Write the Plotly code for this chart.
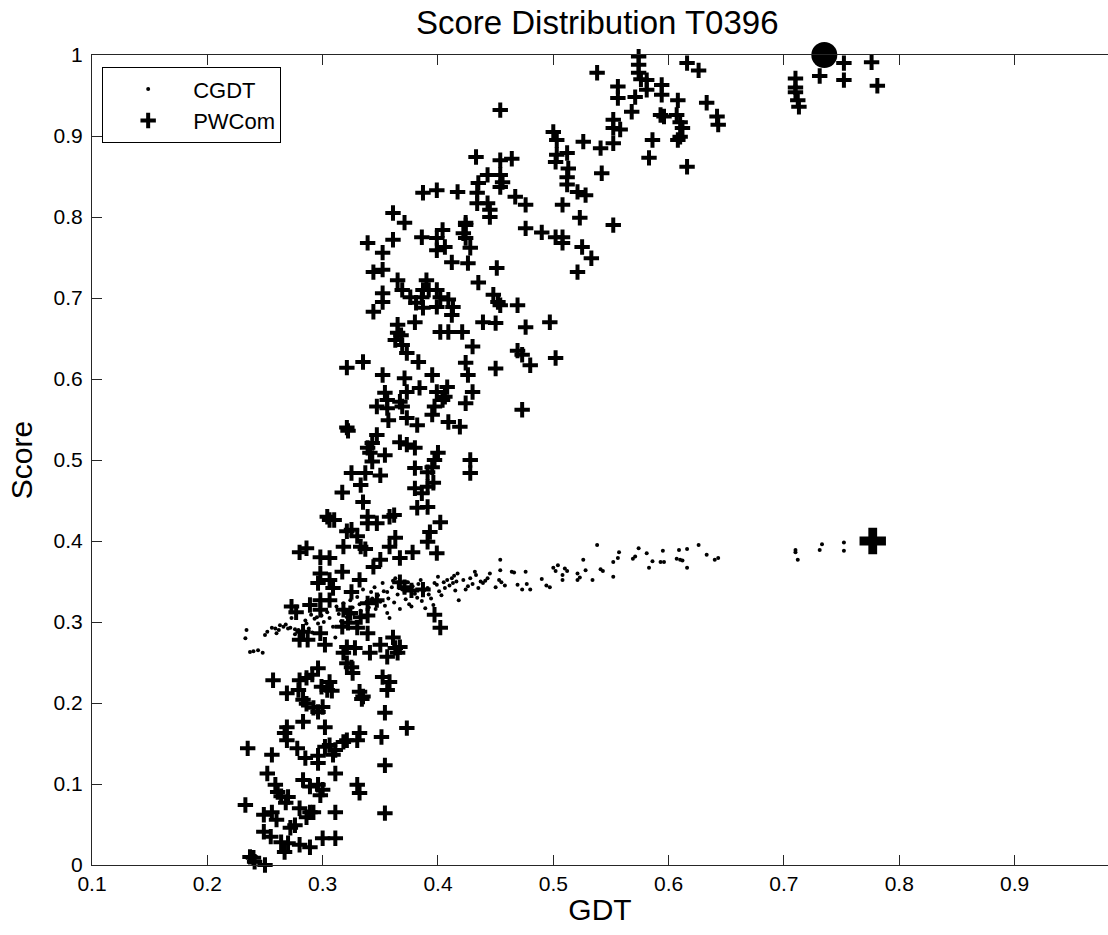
import plotly.graph_objects as go

# ---------------- data ----------------
pw_x = [0.574, 0.574, 0.574, 0.576, 0.616, 0.626, 0.538, 0.581, 0.581, 0.594, 0.594,
        0.556, 0.556, 0.571, 0.568, 0.608, 0.633, 0.642, 0.643, 0.593, 0.596, 0.607, 0.61,
        0.612, 0.61, 0.608, 0.454, 0.552, 0.552, 0.558, 0.552, 0.586, 0.5, 0.503, 0.512,
        0.503, 0.502, 0.526, 0.541, 0.583, 0.616, 0.542, 0.513, 0.512, 0.512, 0.521, 0.528,
        0.508, 0.523, 0.552, 0.433, 0.454, 0.464, 0.443, 0.454, 0.456, 0.454, 0.417, 0.435,
        0.434, 0.434, 0.443, 0.445, 0.445, 0.467, 0.476, 0.424, 0.422, 0.476, 0.49, 0.502,
        0.508, 0.508, 0.525, 0.521, 0.533,
        0.387, 0.399, 0.361, 0.371, 0.386, 0.404, 0.399, 0.406, 0.399, 0.424, 0.424, 0.428,
        0.412, 0.426, 0.339, 0.352, 0.361, 0.344, 0.352, 0.451, 0.435, 0.448, 0.452, 0.454,
        0.469, 0.365, 0.369, 0.352, 0.352, 0.344, 0.39, 0.387, 0.386, 0.392, 0.399, 0.402,
        0.409, 0.413, 0.412, 0.376, 0.381, 0.387, 0.399, 0.365, 0.38, 0.365, 0.368, 0.402,
        0.409, 0.421, 0.439, 0.45, 0.476, 0.497, 0.45, 0.469, 0.473, 0.48, 0.502, 0.473,
        0.363, 0.369, 0.373, 0.383, 0.43, 0.424, 0.426, 0.43, 0.424, 0.321, 0.335, 0.352,
        0.371, 0.395, 0.384, 0.373, 0.354, 0.356, 0.347, 0.356, 0.357, 0.367, 0.369, 0.399,
        0.404, 0.406, 0.397, 0.395, 0.408, 0.373, 0.382, 0.409, 0.419, 0.321, 0.322, 0.347,
        0.343, 0.339, 0.341, 0.343, 0.354, 0.367, 0.373, 0.38, 0.4, 0.397, 0.395, 0.391,
        0.38, 0.396, 0.391, 0.38, 0.386, 0.382, 0.391, 0.428, 0.428, 0.325, 0.337, 0.35,
        0.333, 0.317, 0.335, 0.304, 0.339, 0.358, 0.362,
        0.306, 0.31, 0.325, 0.321, 0.33, 0.339, 0.347, 0.402, 0.393, 0.391, 0.399, 0.318,
        0.333, 0.337, 0.28, 0.286, 0.298, 0.306, 0.363, 0.358, 0.367, 0.378, 0.35, 0.344,
        0.298, 0.306, 0.317, 0.309, 0.296, 0.332, 0.325, 0.367, 0.371, 0.377, 0.387, 0.298,
        0.306, 0.289, 0.273, 0.277, 0.347, 0.339, 0.298, 0.318, 0.324, 0.333, 0.339, 0.397,
        0.402, 0.317, 0.322, 0.33, 0.339, 0.283, 0.28, 0.287, 0.298, 0.302, 0.321, 0.328,
        0.318, 0.341, 0.35, 0.361, 0.363, 0.365, 0.356, 0.367, 0.321, 0.325, 0.326, 0.296,
        0.291, 0.257, 0.28, 0.286, 0.279, 0.269, 0.299, 0.306, 0.304, 0.332, 0.335, 0.352,
        0.358, 0.356,
        0.283, 0.286, 0.292, 0.296, 0.3, 0.308, 0.334, 0.354, 0.373, 0.269, 0.267, 0.269,
        0.283, 0.302, 0.351, 0.332, 0.33, 0.321, 0.318, 0.306, 0.302, 0.311, 0.309, 0.235,
        0.256, 0.278, 0.285, 0.296, 0.296, 0.354, 0.311, 0.252, 0.259, 0.261, 0.283, 0.289,
        0.296, 0.298, 0.3, 0.33, 0.332, 0.264, 0.27, 0.268, 0.233, 0.249, 0.256, 0.26,
        0.28, 0.289, 0.286, 0.292, 0.311, 0.354, 0.249, 0.255, 0.264, 0.27, 0.272, 0.276,
        0.267, 0.28, 0.289, 0.3, 0.311, 0.237, 0.24, 0.241, 0.25,
        0.71, 0.71, 0.71, 0.712, 0.713, 0.731, 0.752, 0.752, 0.776, 0.781]
pw_y = [0.998, 0.988, 0.978, 0.97, 0.99, 0.981, 0.978, 0.969, 0.957, 0.963, 0.951,
        0.961, 0.947, 0.948, 0.93, 0.944, 0.941, 0.924, 0.914, 0.926, 0.924, 0.926, 0.917,
        0.91, 0.899, 0.895, 0.932, 0.92, 0.91, 0.908, 0.891, 0.895, 0.905, 0.895, 0.879,
        0.877, 0.868, 0.893, 0.885, 0.873, 0.862, 0.854, 0.86, 0.849, 0.84, 0.831, 0.827,
        0.815, 0.799, 0.79, 0.874, 0.87, 0.872, 0.852, 0.852, 0.843, 0.837, 0.831, 0.842,
        0.83, 0.817, 0.817, 0.809, 0.8, 0.825, 0.815, 0.79, 0.78, 0.786, 0.781, 0.775,
        0.775, 0.768, 0.763, 0.732, 0.749,
        0.83, 0.833, 0.805, 0.793, 0.775, 0.784, 0.774, 0.763, 0.759, 0.793, 0.774, 0.762,
        0.744, 0.743, 0.768, 0.756, 0.772, 0.732, 0.735, 0.737, 0.719, 0.704, 0.695, 0.691,
        0.691, 0.722, 0.71, 0.706, 0.695, 0.683, 0.722, 0.71, 0.701, 0.71, 0.71, 0.701,
        0.698, 0.689, 0.679, 0.701, 0.694, 0.688, 0.689, 0.667, 0.67, 0.657, 0.654, 0.658,
        0.658, 0.658, 0.67, 0.669, 0.664, 0.67, 0.613, 0.635, 0.63, 0.617, 0.626, 0.562,
        0.648, 0.642, 0.632, 0.621, 0.64, 0.62, 0.605, 0.584, 0.57, 0.614, 0.621, 0.605,
        0.601, 0.605, 0.589, 0.584, 0.583, 0.574, 0.566, 0.564, 0.549, 0.572, 0.566, 0.584,
        0.574, 0.578, 0.566, 0.556, 0.59, 0.552, 0.543, 0.547, 0.541, 0.54, 0.536, 0.531,
        0.521, 0.515, 0.509, 0.498, 0.506, 0.522, 0.519, 0.515, 0.509, 0.5, 0.491, 0.485,
        0.49, 0.472, 0.467, 0.465, 0.459, 0.441, 0.442, 0.5, 0.484, 0.484, 0.484, 0.481,
        0.469, 0.46, 0.448, 0.43, 0.43, 0.43, 0.432,
        0.426, 0.426, 0.414, 0.412, 0.406, 0.422, 0.422, 0.423, 0.411, 0.399, 0.385, 0.393,
        0.393, 0.39, 0.386, 0.391, 0.38, 0.379, 0.404, 0.393, 0.379, 0.386, 0.377, 0.368,
        0.36, 0.352, 0.362, 0.342, 0.348, 0.352, 0.337, 0.349, 0.343, 0.339, 0.34, 0.327,
        0.327, 0.321, 0.319, 0.312, 0.327, 0.323, 0.315, 0.315, 0.311, 0.306, 0.308, 0.309,
        0.293, 0.294, 0.299, 0.293, 0.286, 0.288, 0.278, 0.278, 0.286, 0.272, 0.269, 0.268,
        0.262, 0.262, 0.272, 0.281, 0.268, 0.262, 0.257, 0.269, 0.249, 0.244, 0.237, 0.243,
        0.235, 0.228, 0.228, 0.231, 0.216, 0.212, 0.22, 0.226, 0.216, 0.214, 0.208, 0.232,
        0.226, 0.216,
        0.204, 0.199, 0.194, 0.189, 0.195, 0.215, 0.205, 0.188, 0.169, 0.17, 0.163, 0.154,
        0.177, 0.17, 0.158, 0.163, 0.154, 0.154, 0.152, 0.148, 0.146, 0.142, 0.136, 0.144,
        0.136, 0.144, 0.132, 0.126, 0.135, 0.123, 0.113, 0.113, 0.099, 0.09, 0.105, 0.097,
        0.099, 0.086, 0.093, 0.099, 0.089, 0.085, 0.084, 0.077, 0.074, 0.062, 0.065, 0.056,
        0.07, 0.065, 0.059, 0.065, 0.065, 0.064, 0.041, 0.035, 0.028, 0.027, 0.046, 0.049,
        0.016, 0.025, 0.022, 0.033, 0.033, 0.01, 0.009, 0.004, 0.0,
        0.971, 0.96, 0.954, 0.944, 0.936, 0.974, 0.99, 0.969, 0.991, 0.962]

cg_x = [0.234, 0.233, 0.237, 0.24, 0.244, 0.248, 0.25, 0.252, 0.256, 0.259, 0.262, 0.26,
        0.263, 0.266, 0.268, 0.27, 0.272, 0.273, 0.276, 0.276, 0.279, 0.281, 0.283, 0.285,
        0.286, 0.288, 0.29, 0.291, 0.293, 0.295, 0.296, 0.299, 0.301, 0.304, 0.306, 0.309,
        0.311, 0.312, 0.314, 0.316, 0.318, 0.32, 0.321, 0.324, 0.326, 0.327, 0.329, 0.33,
        0.332, 0.333, 0.335, 0.336, 0.338, 0.34, 0.342, 0.343, 0.345, 0.346, 0.348, 0.35,
        0.352, 0.353, 0.354, 0.356, 0.356, 0.357, 0.358, 0.36, 0.361, 0.362, 0.363, 0.365,
        0.366, 0.367, 0.369, 0.371, 0.372, 0.374, 0.375, 0.377, 0.378, 0.38, 0.382, 0.383,
        0.385, 0.386, 0.388, 0.389, 0.391, 0.392, 0.394, 0.396, 0.397, 0.399, 0.4, 0.401,
        0.403, 0.405, 0.406, 0.408, 0.41, 0.412, 0.414, 0.415, 0.417, 0.418, 0.413, 0.416,
        0.422, 0.424, 0.426, 0.428, 0.43, 0.432, 0.433, 0.435, 0.437, 0.439, 0.441, 0.443,
        0.445, 0.45, 0.453, 0.454, 0.454, 0.455, 0.458, 0.464, 0.466, 0.469, 0.473, 0.476,
        0.477, 0.48, 0.49, 0.494, 0.497, 0.5, 0.502, 0.504, 0.508, 0.51, 0.512, 0.508,
        0.521, 0.521, 0.523, 0.526, 0.528, 0.534, 0.538, 0.541, 0.543, 0.552, 0.552, 0.556,
        0.557, 0.569, 0.571, 0.574, 0.581, 0.583, 0.586, 0.593, 0.596, 0.595, 0.607, 0.609,
        0.61, 0.612, 0.616, 0.616, 0.626, 0.633, 0.64, 0.643,
        0.71, 0.71, 0.712, 0.731, 0.733, 0.752, 0.752]
cg_y = [0.29, 0.28, 0.263, 0.264, 0.265, 0.262, 0.284, 0.288, 0.293, 0.292, 0.29, 0.286,
        0.296, 0.294, 0.297, 0.292, 0.293, 0.305, 0.291, 0.285, 0.29, 0.286, 0.283, 0.302,
        0.298, 0.292, 0.309, 0.287, 0.304, 0.306, 0.298, 0.308, 0.3, 0.312, 0.305, 0.294,
        0.281, 0.319, 0.31, 0.301, 0.323, 0.315, 0.306, 0.327, 0.318, 0.31, 0.3, 0.331,
        0.322, 0.314, 0.34, 0.307, 0.325, 0.318, 0.337, 0.329, 0.343, 0.316, 0.333, 0.325,
        0.348, 0.338, 0.32, 0.337, 0.311, 0.329, 0.305, 0.343, 0.351, 0.324, 0.354, 0.334,
        0.346, 0.316, 0.34, 0.337, 0.328, 0.349, 0.322, 0.319, 0.344, 0.335, 0.33, 0.347,
        0.352, 0.326, 0.339, 0.317, 0.342, 0.334, 0.329, 0.321, 0.348, 0.346, 0.356, 0.338,
        0.333, 0.349, 0.342, 0.352, 0.345, 0.354, 0.357, 0.339, 0.36, 0.327, 0.348, 0.35,
        0.352, 0.34, 0.344, 0.354, 0.347, 0.362, 0.358, 0.342, 0.35, 0.348, 0.351, 0.354,
        0.36, 0.343, 0.352, 0.377, 0.364, 0.349, 0.345, 0.362, 0.361, 0.346, 0.34, 0.362,
        0.347, 0.34, 0.353, 0.345, 0.343, 0.367, 0.363, 0.37, 0.358, 0.366, 0.363, 0.352,
        0.36, 0.352, 0.355, 0.377, 0.364, 0.352, 0.395, 0.365, 0.363, 0.374, 0.356, 0.379,
        0.386, 0.378, 0.381, 0.391, 0.385, 0.367, 0.375, 0.374, 0.374, 0.388, 0.378, 0.389,
        0.377, 0.376, 0.39, 0.367, 0.395, 0.383, 0.377, 0.379,
        0.389, 0.386, 0.377, 0.389, 0.396, 0.398, 0.388]

best_gdt_x = [0.777]
best_gdt_y = [0.4]
best_score_x = [0.735]
best_score_y = [1.0]

x_tickvals = [0.1, 0.2, 0.3, 0.4, 0.5, 0.6, 0.7, 0.8, 0.9]
x_ticktext = ["0.1", "0.2", "0.3", "0.4", "0.5", "0.6", "0.7", "0.8", "0.9"]
y_tickvals = [0, 0.1, 0.2, 0.3, 0.4, 0.5, 0.6, 0.7, 0.8, 0.9, 1.0]
y_ticktext = ["0", "0.1", "0.2", "0.3", "0.4", "0.5", "0.6", "0.7", "0.8", "0.9", "1"]

FONT = "Liberation Sans, Arial, sans-serif"

fig = go.Figure()
fig.add_trace(go.Scatter(x=cg_x, y=cg_y, mode="markers", name="CGDT",
                         marker=dict(symbol="circle", size=4, color="black"),
                         cliponaxis=False))
fig.add_trace(go.Scatter(x=pw_x, y=pw_y, mode="markers", name="PWCom",
                         marker=dict(symbol="cross-thin", size=11, color="black",
                                     line=dict(color="black", width=4)),
                         cliponaxis=False))
fig.add_trace(go.Scatter(x=best_gdt_x, y=best_gdt_y, mode="markers", showlegend=False,
                         marker=dict(symbol="cross", size=22, color="black"),
                         cliponaxis=False))
fig.add_trace(go.Scatter(x=best_score_x, y=best_score_y, mode="markers", showlegend=False,
                         marker=dict(symbol="circle", size=26, color="black"),
                         cliponaxis=False))

fig.update_layout(
    width=1108, height=935,
    margin=dict(l=92, r=0, t=55, b=70),
    paper_bgcolor="white", plot_bgcolor="white",
    font=dict(family=FONT, color="black", size=21),
    title=dict(text="Score Distribution T0396", x=0.539, xanchor="center",
               y=0.976, yanchor="middle", font=dict(size=33)),
    showlegend=True,
    legend=dict(x=0.01, y=0.985, xanchor="left", yanchor="top",
                bordercolor="black", borderwidth=1, bgcolor="white",
                font=dict(size=22), itemwidth=80, tracegroupgap=0),
)
fig.update_xaxes(range=[0.1, 0.981], tickvals=x_tickvals, ticktext=x_ticktext,
                 showline=True, linecolor="#262626", linewidth=1, mirror="ticks",
                 ticks="inside", ticklen=10, tickcolor="#262626", showgrid=False,
                 zeroline=False, tickfont=dict(size=21),
                 title=dict(text="GDT", font=dict(size=30), standoff=4))
fig.update_yaxes(range=[0, 1], tickvals=y_tickvals, ticktext=y_ticktext,
                 showline=True, linecolor="#262626", linewidth=1, mirror=False,
                 ticks="inside", ticklen=10, tickcolor="#262626", showgrid=False,
                 zeroline=False, tickfont=dict(size=21), ticklabelstandoff=4,
                 title=dict(text="Score", font=dict(size=30), standoff=12))

fig.write_html("out.html", config={"displayModeBar": False},
               post_script="document.body.style.margin='0';")
